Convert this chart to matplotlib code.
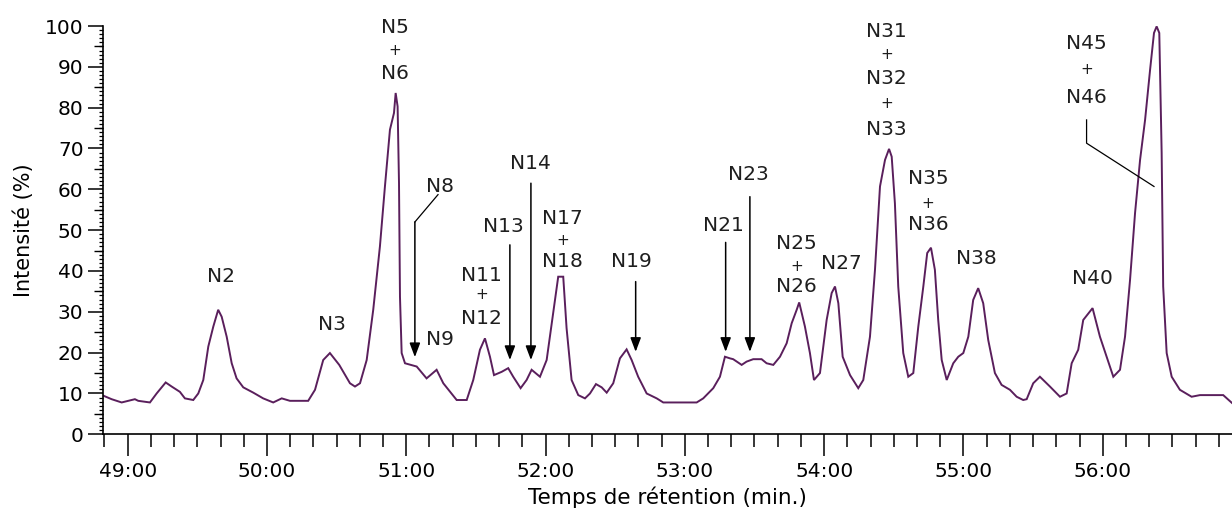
import matplotlib
matplotlib.use("Agg")
import matplotlib.pyplot as plt
from matplotlib.ticker import MultipleLocator, FixedLocator, FuncFormatter

# ---------------- data ----------------
time_min = [48.823, 48.885, 48.957, 49.004, 49.052, 49.076, 49.160, 49.208, 49.273, 49.316,
            49.375, 49.411, 49.471, 49.507, 49.543, 49.579, 49.615, 49.650, 49.675, 49.711,
            49.747, 49.782, 49.830, 49.902, 49.973, 50.045, 50.106, 50.165, 50.296, 50.345,
            50.404, 50.452, 50.519, 50.596, 50.632, 50.668, 50.716, 50.763, 50.811, 50.847,
            50.883, 50.912, 50.924, 50.938, 50.948, 50.955, 50.967, 50.991, 51.075, 51.146,
            51.218, 51.266, 51.362, 51.434, 51.481, 51.529, 51.565, 51.601, 51.630, 51.685,
            51.732, 51.768, 51.821, 51.864, 51.900, 51.960, 52.008, 52.055, 52.091, 52.127,
            52.151, 52.187, 52.235, 52.283, 52.319, 52.362, 52.403, 52.439, 52.486, 52.534,
            52.582, 52.618, 52.665, 52.726, 52.798, 52.845, 53.085, 53.132, 53.204, 53.252,
            53.288, 53.324, 53.347, 53.408, 53.443, 53.491, 53.551, 53.587, 53.635, 53.683,
            53.731, 53.767, 53.803, 53.821, 53.862, 53.898, 53.927, 53.970, 54.018, 54.054,
            54.078, 54.102, 54.133, 54.186, 54.245, 54.281, 54.329, 54.365, 54.401, 54.437,
            54.466, 54.485, 54.508, 54.532, 54.568, 54.604, 54.640, 54.676, 54.712, 54.740,
            54.767, 54.795, 54.819, 54.844, 54.880, 54.927, 54.963, 54.999, 55.035, 55.070,
            55.106, 55.142, 55.178, 55.226, 55.274, 55.334, 55.382, 55.429, 55.454, 55.501,
            55.549, 55.621, 55.693, 55.741, 55.777, 55.824, 55.860, 55.927, 55.980, 56.028,
            56.076, 56.124, 56.160, 56.196, 56.232, 56.268, 56.304, 56.340, 56.368, 56.387,
            56.406, 56.423, 56.434, 56.459, 56.495, 56.554, 56.638, 56.698, 56.865, 56.927]
intensity = [9.5, 8.6, 7.8, 8.2, 8.6, 8.2, 7.8, 10.0, 12.7, 11.7,
             10.4, 8.8, 8.4, 10.0, 13.3, 21.5, 26.4, 30.5, 28.8, 23.9,
             17.4, 13.7, 11.5, 10.2, 8.8, 7.8, 8.8, 8.2, 8.2, 10.9,
             18.2, 19.9, 17.0, 12.5, 11.7, 12.5, 18.2, 30.5, 46.0, 60.7,
             74.6, 78.7, 83.6, 80.3, 61.5, 33.7, 19.9, 17.4, 16.6, 13.7,
             15.8, 12.5, 8.4, 8.4, 13.3, 20.7, 23.5, 19.0, 14.5, 15.3,
             16.2, 14.1, 11.3, 13.3, 15.8, 14.1, 18.2, 29.7, 38.6, 38.6,
             26.0, 13.3, 9.6, 8.8, 10.0, 12.3, 11.5, 10.2, 12.5, 18.6,
             20.8, 18.2, 14.1, 10.0, 8.8, 7.8, 7.8, 8.8, 11.3, 14.1,
             19.0, 18.6, 18.4, 17.0, 17.8, 18.4, 18.4, 17.4, 17.0, 19.0,
             22.3, 27.2, 30.5, 32.3, 26.4, 19.9, 13.3, 15.0, 28.0, 34.6,
             36.2, 32.1, 19.0, 14.5, 11.3, 13.3, 23.9, 40.3, 60.7, 67.2,
             69.9, 68.0, 56.6, 36.2, 19.9, 14.1, 15.0, 26.4, 36.2, 44.4,
             45.7, 40.3, 28.0, 18.2, 13.3, 17.4, 19.0, 19.9, 23.9, 32.9,
             35.8, 32.1, 23.1, 15.0, 12.1, 10.9, 9.2, 8.4, 8.6, 12.5,
             14.1, 11.7, 9.2, 10.0, 17.4, 20.7, 28.0, 30.9, 23.9, 19.0,
             14.1, 15.8, 23.9, 37.8, 54.2, 67.2, 77.0, 89.3, 98.3, 99.9,
             98.3, 68.9, 36.2, 19.9, 14.1, 10.9, 9.2, 9.6, 9.6, 7.7]

# peak labels (text, x, y)
label_text = ["N2", "N3", "N5", "N6", "N8", "N9", "N11", "N12", "N13", "N14",
              "N17", "N18", "N19", "N21", "N23", "N25", "N26", "N27",
              "N31", "N32", "N33", "N35", "N36", "N38", "N40", "N45", "N46"]
label_x = [49.67, 50.464, 50.92, 50.92, 51.242, 51.242, 51.541, 51.541, 51.696, 51.895,
           52.121, 52.121, 52.618, 53.276, 53.455, 53.803, 53.803, 54.126,
           54.449, 54.449, 54.449, 54.747, 54.747, 55.095, 55.927, 55.884, 55.884]
label_y = [38.6, 26.8, 99.6, 88.4, 60.7, 23.1, 39.0, 28.4, 50.9, 66.4,
           52.9, 42.3, 42.3, 51.1, 63.6, 46.8, 36.2, 41.9,
           98.7, 87.2, 74.6, 62.7, 51.3, 43.1, 38.2, 95.8, 82.4]

# "+" signs between combined labels
plus_x = [50.92, 51.541, 52.121, 53.803, 54.449, 54.449, 54.747, 55.884]
plus_y = [93.9, 34.2, 47.4, 41.1, 93.1, 81.0, 56.6, 89.3]

# arrows: x, top, tip
arrow_x = [51.062, 51.744, 51.895, 52.647, 53.293, 53.467]
arrow_top = [52.0, 46.4, 61.5, 37.4, 47.0, 58.2]
arrow_tip = [18.9, 18.2, 18.2, 20.2, 20.2, 20.2]

# leader lines (no heads)
n8_leader_x = [51.228, 51.062]
n8_leader_y = [58.7, 52.0]
n45_leader_x = [55.884, 55.884, 56.368]
n45_leader_y = [77.0, 71.3, 60.7]

x_major = [49, 50, 51, 52, 53, 54, 55, 56]

# ---------------- figure ----------------
plt.rcParams['font.family'] = ['DejaVu Sans']
FS = 14.5
fig = plt.figure(figsize=(12.32, 5.13), dpi=100)
ax = fig.add_axes([0.0836, 0.1534, 0.9164, 0.7959])

ax.plot(time_min, intensity, color='#5a1f5c', lw=1.4, solid_joinstyle='miter')

ax.set_xlim(48.823, 56.928)
ax.set_ylim(0, 100)

for s in ['top', 'right']:
    ax.spines[s].set_visible(False)
for s in ['left', 'bottom']:
    ax.spines[s].set_linewidth(1.2)

ax.xaxis.set_major_locator(FixedLocator(x_major))
ax.xaxis.set_minor_locator(MultipleLocator(1 / 6))
ax.xaxis.set_major_formatter(FuncFormatter(lambda v, p: f"{int(round(v))}:00"))
ax.yaxis.set_major_locator(MultipleLocator(10))
ax.yaxis.set_minor_locator(MultipleLocator(1))

ax.tick_params(axis='x', which='major', direction='out', length=16, width=1.1,
               labelsize=FS, pad=4, colors='black')
ax.tick_params(axis='x', which='minor', direction='out', length=9.5, width=1.1)
ax.tick_params(axis='y', which='major', direction='out', length=11, width=1.1,
               labelsize=FS, pad=3)
ax.tick_params(axis='y', which='minor', direction='out', length=3, width=0.9)

# mid ticks at every 5
sec = ax.secondary_yaxis('left')
sec.set_yticks([5, 15, 25, 35, 45, 55, 65, 75, 85, 95])
sec.tick_params(axis='y', direction='out', length=6.5, width=1.0, labelleft=False)
sec.spines['left'].set_visible(False)

ax.set_xlabel("Temps de rétention (min.)", fontsize=15.5, labelpad=4)
ax.set_ylabel("Intensité (%)", fontsize=15, labelpad=8)

txt_color = '#1e1e1e'
for t, x, y in zip(label_text, label_x, label_y):
    ax.text(x, y, t, fontsize=FS, ha='center', va='center', color=txt_color)
for x, y in zip(plus_x, plus_y):
    ax.text(x, y, "+", fontsize=11, ha='center', va='center', color=txt_color)

for x, top, tip in zip(arrow_x, arrow_top, arrow_tip):
    ax.annotate("", xy=(x, tip), xytext=(x, top),
                arrowprops=dict(arrowstyle='-|>,head_length=0.85,head_width=0.32',
                                color='black', lw=1.1, mutation_scale=10,
                                shrinkA=0, shrinkB=0))

ax.plot(n8_leader_x, n8_leader_y, color='black', lw=0.9)
ax.plot(n45_leader_x, n45_leader_y, color='black', lw=0.9)

fig.savefig("out.png", dpi=100)
